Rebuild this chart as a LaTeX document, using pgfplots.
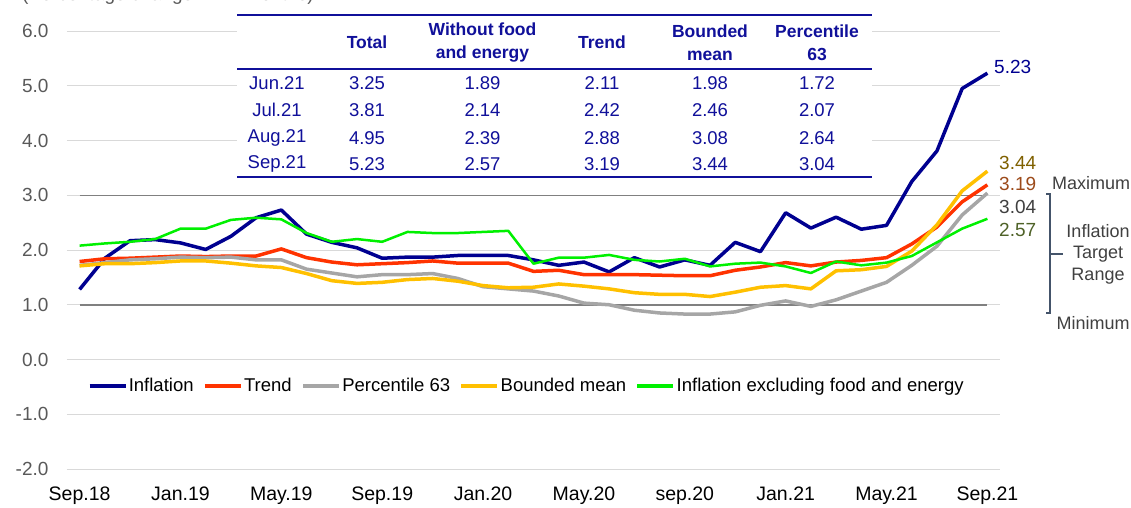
\documentclass[border=0pt]{standalone}
\usepackage{pgfplots}
\usepackage{pgfplotstable}
\pgfplotsset{compat=1.18}
\usepackage{fontspec}
\setmainfont{Liberation Sans}

\definecolor{infl}{HTML}{000090}
\definecolor{trend}{HTML}{FF3300}
\definecolor{pct}{HTML}{A6A6A6}
\definecolor{bmean}{HTML}{FFC000}
\definecolor{core}{HTML}{00F000}
\definecolor{gridc}{HTML}{D9D9D9}
\definecolor{target}{HTML}{808080}
\definecolor{ticklab}{HTML}{595959}
\definecolor{tabblue}{HTML}{10109A}
\definecolor{lab344}{HTML}{7F6000}
\definecolor{lab319}{HTML}{9C4A1A}
\definecolor{lab304}{HTML}{404040}
\definecolor{lab257}{HTML}{4F6228}
\definecolor{brack}{HTML}{44546A}

% months Sep.18 ... Sep.21 -> 0 ... 36
\pgfplotstableread{
i  infl trend p63  bm   core
0  1.28 1.79 1.72 1.71 2.08
1  1.85 1.84 1.77 1.75 2.12
2  2.17 1.85 1.82 1.75 2.15
3  2.19 1.87 1.84 1.77 2.20
4  2.13 1.89 1.87 1.80 2.39
5  2.01 1.88 1.86 1.80 2.39
6  2.25 1.89 1.87 1.76 2.55
7  2.59 1.89 1.82 1.71 2.59
8  2.73 2.02 1.82 1.68 2.56
9  2.29 1.86 1.65 1.57 2.31
10 2.14 1.78 1.58 1.44 2.15
11 2.04 1.73 1.51 1.39 2.20
12 1.85 1.75 1.55 1.41 2.15
13 1.87 1.77 1.55 1.46 2.33
14 1.87 1.80 1.57 1.48 2.31
15 1.90 1.76 1.48 1.43 2.31
16 1.90 1.76 1.33 1.35 2.33
17 1.90 1.76 1.29 1.31 2.35
18 1.82 1.61 1.25 1.32 1.75
19 1.72 1.63 1.16 1.38 1.86
20 1.78 1.55 1.03 1.34 1.86
21 1.60 1.55 1.00 1.29 1.91
22 1.86 1.55 0.90 1.22 1.82
23 1.69 1.54 0.85 1.19 1.79
24 1.82 1.53 0.83 1.19 1.84
25 1.72 1.53 0.83 1.15 1.70
26 2.14 1.63 0.87 1.23 1.75
27 1.97 1.69 0.99 1.32 1.77
28 2.68 1.77 1.07 1.35 1.70
29 2.40 1.71 0.97 1.29 1.58
30 2.60 1.78 1.09 1.62 1.79
31 2.38 1.81 1.25 1.64 1.72
32 2.45 1.86 1.41 1.70 1.77
33 3.25 2.11 1.72 1.98 1.89
34 3.81 2.42 2.07 2.46 2.14
35 4.95 2.88 2.64 3.08 2.39
36 5.23 3.19 3.04 3.44 2.57
}\datatable

\begin{document}
\begin{tikzpicture}
\path[use as bounding box] (-67pt,-38pt) rectangle (1064pt,469pt);

% title, cut by the top edge as in the source image
\node[anchor=base west, text=ticklab, font=\fontsize{19}{22}\selectfont, inner sep=0pt] at (-45pt,468pt) {(Percentage change in 12 months)};

\begin{axis}[
    scale only axis,
    width=933pt,
    height=438pt,
    xmin=-0.5, xmax=36.5,
    ymin=-2, ymax=6,
    axis line style={draw=none},
    major tick length=0pt,
    ytick={-2,-1,0,1,2,3,4,5,6},
    yticklabels={-2.0,-1.0,0.0,1.0,2.0,3.0,4.0,5.0,6.0},
    xtick={0,4,8,12,16,20,24,28,32,36},
    xticklabels={Sep.18,Jan.19,May.19,Sep.19,Jan.20,May.20,sep.20,Jan.21,May.21,Sep.21},
    ymajorgrids,
    grid style={line width=1pt, gridc},
    yticklabel style={font=\fontsize{19}{22}\selectfont, text=ticklab, xshift=-15pt},
    xticklabel style={font=\fontsize{19.5}{22}\selectfont, text=black, yshift=-14pt},
    legend columns=-1,
    legend style={at={(0.4925,0.1895)}, anchor=center, draw=none, fill=none,
        font=\fontsize{18.5}{22}\selectfont,
        nodes={inner sep=1.5pt},
        /tikz/every even column/.append style={column sep=8pt}},
    legend image code/.code={\draw[#1, line width=3.5pt] (0pt,0pt) -- (36pt,0pt);},
    every axis plot/.append style={line join=round},
]

% target range limits
\addplot[target, line width=1.5pt, forget plot] coordinates {(0,3) (36,3)};
\addplot[target, line width=1.5pt, forget plot] coordinates {(0,1) (36,1)};

\addplot[infl, line width=3.5pt] table[x=i, y=infl] {\datatable};
\addlegendentry{Inflation}
\addplot[trend, line width=3.5pt] table[x=i, y=trend] {\datatable};
\addlegendentry{Trend}
\addplot[pct, line width=3.5pt] table[x=i, y=p63] {\datatable};
\addlegendentry{Percentile 63}
\addplot[bmean, line width=3.5pt] table[x=i, y=bm] {\datatable};
\addlegendentry{Bounded mean}
\addplot[core, line width=2.5pt] table[x=i, y=core] {\datatable};
\addlegendentry{Inflation excluding food and energy}

\end{axis}

% inset table
\fill[white] (170pt,291pt) rectangle (805pt,455pt);
\draw[tabblue, line width=2pt] (170pt,454pt) -- (805pt,454pt);
\draw[tabblue, line width=2pt] (170pt,400pt) -- (805pt,400pt);
\draw[tabblue, line width=2pt] (170pt,292pt) -- (805pt,292pt);

\begin{scope}[every node/.style={text=tabblue, font=\bfseries\fontsize{17.5}{23}\selectfont, align=center, inner sep=0pt}]
\node at (300pt,427pt) {Total};
\node at (415.5pt,426pt) {Without food\\and energy};
\node at (535pt,427pt) {Trend};
\node at (643pt,426pt) {Bounded\\mean};
\node at (750pt,426pt) {Percentile\\63};
\end{scope}

\begin{scope}[every node/.style={text=tabblue, font=\fontsize{18.5}{22}\selectfont, inner sep=0pt}]
\node at (210pt,385.5pt) {Jun.21};
\node at (210pt,359pt) {Jul.21};
\node at (210pt,331pt) {Aug.21};
\node at (210pt,305pt) {Sep.21};
\node at (300pt,385.5pt) {3.25};
\node at (300pt,359pt) {3.81};
\node at (300pt,331pt) {4.95};
\node at (300pt,305pt) {5.23};
\node at (415.5pt,385.5pt) {1.89};
\node at (415.5pt,359pt) {2.14};
\node at (415.5pt,331pt) {2.39};
\node at (415.5pt,305pt) {2.57};
\node at (535pt,385.5pt) {2.11};
\node at (535pt,359pt) {2.42};
\node at (535pt,331pt) {2.88};
\node at (535pt,305pt) {3.19};
\node at (643pt,385.5pt) {1.98};
\node at (643pt,359pt) {2.46};
\node at (643pt,331pt) {3.08};
\node at (643pt,305pt) {3.44};
\node at (750pt,385.5pt) {1.72};
\node at (750pt,359pt) {2.07};
\node at (750pt,331pt) {2.64};
\node at (750pt,305pt) {3.04};
\end{scope}

% end-point labels
\begin{scope}[every node/.style={anchor=west, font=\fontsize{19}{22}\selectfont, inner sep=0pt}]
\node[text=infl] at (927pt,402pt) {5.23};
\node[text=lab344] at (932pt,306pt) {3.44};
\node[text=lab319] at (932pt,285pt) {3.19};
\node[text=lab304] at (932pt,262pt) {3.04};
\node[text=lab257] at (932pt,239pt) {2.57};
\end{scope}

% target range bracket
\draw[brack, line width=1.5pt] (979pt,275pt) -- (983pt,275pt) -- (983pt,156pt) -- (979pt,156pt);
\draw[brack, line width=1.5pt] (983pt,215pt) -- (996pt,215pt);
\begin{scope}[every node/.style={text=lab304, font=\fontsize{18}{21.5}\selectfont, align=center, inner sep=0pt}]
\node at (1024pt,286pt) {Maximum};
\node at (1031pt,215pt) {Inflation\\Target\\Range};
\node at (1026pt,146pt) {Minimum};
\end{scope}

\end{tikzpicture}
\end{document}
